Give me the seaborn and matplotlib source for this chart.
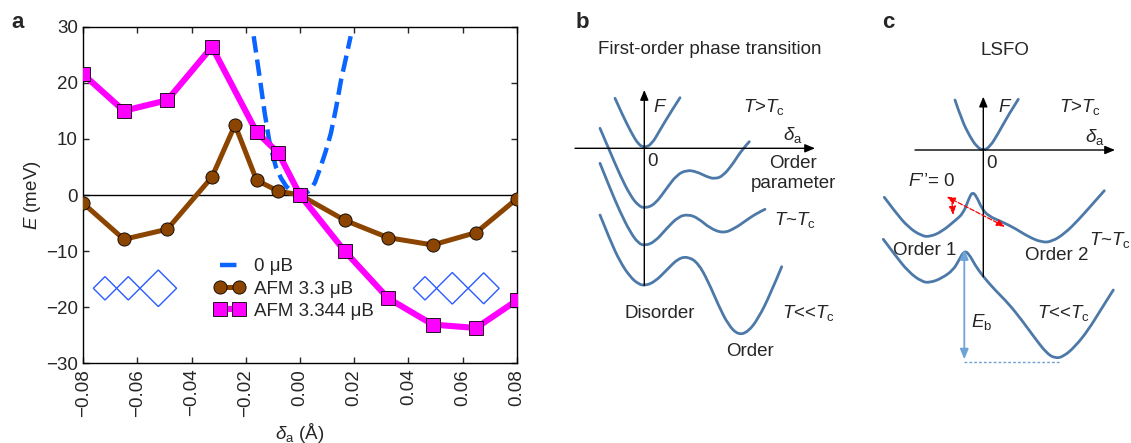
import numpy as np
import pandas as pd
import matplotlib
matplotlib.use("Agg")
import matplotlib.pyplot as plt
from matplotlib.patches import Polygon, PathPatch
from matplotlib.path import Path
import seaborn as sns

# ---- panel a data ----
delta_afm33 = [-0.080, -0.065, -0.049, -0.0325, -0.024, -0.016, -0.008, 0.0,
               0.0165, 0.0325, 0.049, 0.065, 0.080]
energy_afm33 = [-1.5, -7.9, -6.1, 3.2, 12.5, 2.6, 0.7, 0.0,
                -4.5, -7.6, -8.9, -6.7, -0.7]

delta_afm3344 = [-0.080, -0.065, -0.049, -0.0325, -0.016, -0.008, 0.0,
                 0.0165, 0.0325, 0.049, 0.065, 0.080]
energy_afm3344 = [21.5, 15.0, 16.9, 26.4, 11.2, 7.5, 0.0,
                  -10.0, -18.4, -23.1, -23.7, -18.8]

delta_nm = [-0.0171, -0.0158, -0.0146, -0.0130, -0.0114, -0.0100, -0.0089, -0.0070,
            -0.0050, -0.0030, -0.0010, 0.0, 0.0020, 0.0038, 0.0055, 0.0076,
            0.0095, 0.0114, 0.0133, 0.0152, 0.0170, 0.0187]
energy_nm = [28.3, 24.0, 20.0, 14.5, 9.8, 7.0, 5.0, 3.0,
             1.5, 0.6, 0.1, 0.0, 0.3, 0.9, 2.2, 5.0,
             7.8, 11.0, 15.5, 20.6, 24.5, 28.3]

series_labels = ["0 \u03bcB", "AFM 3.3 \u03bcB", "AFM 3.344 \u03bcB"]
x_ticks = [-0.08, -0.06, -0.04, -0.02, 0.0, 0.02, 0.04, 0.06, 0.08]
y_ticks = [-30, -20, -10, 0, 10, 20, 30]

# ---- panel b schematic curves (figure pixel coords) ----
b_top_x = [615, 623.3, 631.7, 638.3, 644.3, 651.7, 660, 670, 680]
b_top_y = [98.3, 116.7, 133.3, 144.3, 147.7, 144.3, 130, 113.3, 97.7]
b_mid_x = [600, 610, 620, 630, 638.3, 645, 655, 666.7, 676.7, 686.7, 696.7, 706.7,
           715, 723.3, 733.3, 741.7, 749.3]
b_mid_y = [128.3, 151.7, 175, 195, 205.7, 208.3, 204.3, 188.3, 175, 170, 171.7, 176.7,
           179, 175.7, 163.3, 150, 141.7]
b_tc_x = [600, 610, 620, 630, 638.3, 645, 655, 666.7, 678.3, 688.3, 698.3, 710,
          723.3, 735, 746.7, 756.7, 765]
b_tc_y = [163.3, 188.3, 211.7, 231.7, 243.3, 245.7, 241.7, 228.3, 216.7, 214.3, 218.3,
          228.3, 233.3, 228.3, 220, 213.3, 209.3]
b_low_x = [600, 610, 620, 630, 638.3, 645, 655, 666.7, 678.3, 688.3, 698.3, 708.3,
           718.3, 728.3, 738.3, 748.3, 758.3, 770, 781.7]
b_low_y = [215, 240, 261.7, 276.7, 284, 285.7, 281.7, 270, 258.3, 256.7, 263.3, 281.7,
           305, 325, 335, 331.7, 318.3, 295, 266.7]

# ---- panel c schematic curves ----
c_top_x = [955, 961.7, 970, 976.7, 983.3, 990, 998.3, 1008.3, 1018.3]
c_top_y = [100, 120, 136.7, 146.7, 150.7, 146.7, 133.3, 115, 99.3]
c_tc_x = [884.3, 895, 908.3, 921.7, 930, 941.7, 955, 963.3, 968.3, 972.3, 976.7,
          981.7, 988.3, 1001.7, 1015, 1028.3, 1041.7, 1051.7, 1065, 1078.3, 1091.7, 1104.3]
c_tc_y = [197.3, 211.7, 227.3, 236, 236.7, 231.7, 220.7, 213.3, 200, 191.7, 196.7,
          208.3, 216, 221.7, 228.3, 236.7, 242.3, 241.7, 233.3, 220, 205, 190.7]
c_low_x = [883.3, 895, 908.3, 921.7, 930, 941.7, 953.3, 959, 964.3, 969, 975, 983.3,
           995, 1008.3, 1021.7, 1035, 1046.7, 1055, 1063.3, 1075, 1088.3, 1101.7, 1113.3]
c_low_y = [239.3, 255, 271.7, 281.7, 282.7, 278.3, 270, 260, 250.7, 254, 265, 276.7,
           290, 303.3, 320, 338.3, 353.3, 358.3, 356.7, 346.7, 330, 308.3, 290]

sns.set_style("white")
plt.rcParams["font.family"] = ["Liberation Sans", "DejaVu Sans"]
plt.rcParams["mathtext.fontset"] = "custom"
plt.rcParams["mathtext.rm"] = "Liberation Sans"
plt.rcParams["mathtext.it"] = "Liberation Sans:italic"
plt.rcParams["mathtext.bf"] = "Liberation Sans:bold"

W, H = 1131, 443
fig = plt.figure(figsize=(W / 100, H / 100), dpi=100)

# ---------- panel a ----------
ax = fig.add_axes([83.3 / W, 1 - 363.3 / H, 433.4 / W, 336.6 / H])
ax.axhline(0, color="black", lw=1.0, zorder=1)

sns.lineplot(x=delta_nm, y=energy_nm, ax=ax, color="#0a64ff", lw=3.2,
             linestyle="--", dashes=(3.2, 1.6), sort=False, label=series_labels[0], zorder=2)
sns.lineplot(x=delta_afm33, y=energy_afm33, ax=ax, color="#8b4500", lw=3.6,
             marker="o", markersize=9.5, markeredgecolor="black", markeredgewidth=0.6,
             label=series_labels[1], zorder=3)
sns.lineplot(x=delta_afm3344, y=energy_afm3344, ax=ax, color="#ff00ff", lw=4.4,
             marker="s", markersize=9.5, markeredgecolor="black", markeredgewidth=0.6,
             label=series_labels[2], zorder=4)

ax.set_xlim(-0.08, 0.08)
ax.set_ylim(-30, 30)
ax.set_xticks(x_ticks)
ax.set_xticklabels([f"{v:.2f}".replace("-", "\u2212") for v in x_ticks], rotation=90)
ax.set_yticks(y_ticks)
ax.set_yticklabels([f"{v}".replace("-", "\u2212") for v in y_ticks])
ax.tick_params(direction="in", length=4, width=1, labelsize=13.5, top=True, right=True,
               bottom=True, left=True, pad=4)
for sp in ax.spines.values():
    sp.set_color("black")
    sp.set_linewidth(1.0)
ax.set_xlabel("$\\delta_{\\mathrm{a}}$ (Å)", fontsize=13.5, labelpad=3)
ax.set_ylabel("$E$ (meV)", fontsize=13.5, labelpad=2)
ax.legend(loc="upper left", bbox_to_anchor=(0.285, 0.335), frameon=False, fontsize=13.5,
          numpoints=2, handlelength=1.6, handletextpad=0.5, labelspacing=0.28,
          borderaxespad=0)

# ---------- overlay for panels b, c and decorations ----------
ov = fig.add_axes([0, 0, 1, 1], facecolor="none")
ov.set_xlim(0, W)
ov.set_ylim(H, 0)
ov.axis("off")


def diamond(cx, cy, h, color="#2a5cff"):
    ov.add_patch(Polygon([(cx - h, cy), (cx, cy - h), (cx + h, cy), (cx, cy + h)],
                         closed=True, fill=False, edgecolor=color, lw=1.0))


def smooth_curve(xs, ys, color, lw):
    # quadratic bezier pieces through the midpoints of the read-off points
    pts = list(zip(xs, ys))
    verts = [pts[0]]
    codes = [Path.MOVETO]
    for i in range(1, len(pts) - 1):
        mid = ((pts[i][0] + pts[i + 1][0]) / 2, (pts[i][1] + pts[i + 1][1]) / 2)
        if i == len(pts) - 2:
            mid = pts[-1]
        verts += [pts[i], mid]
        codes += [Path.CURVE3, Path.CURVE3]
    ov.add_patch(PathPatch(Path(verts, codes), fill=False, edgecolor=color, lw=lw,
                           capstyle="round", joinstyle="round"))


for cx, h in [(105, 11.7), (128.3, 11.7), (158.3, 18.3)]:
    diamond(cx, 288.3, h)
for cx, h in [(425, 11.7), (452.3, 15.8), (483.7, 15.5)]:
    diamond(cx, 288.3, h)

curve_col = "#4c79a8"
lw_c = 2.0
arr = dict(arrowstyle="-|>,head_length=0.6,head_width=0.25", color="black", lw=1.0,
           shrinkA=0, shrinkB=0)

# panel b
ov.annotate("", xy=(815, 148.3), xytext=(575, 148.3), arrowprops=arr)
ov.annotate("", xy=(644.3, 90), xytext=(644.3, 285.5), arrowprops=arr)
for xs, ys in [(b_top_x, b_top_y), (b_mid_x, b_mid_y), (b_tc_x, b_tc_y), (b_low_x, b_low_y)]:
    smooth_curve(xs, ys, curve_col, lw_c)

fs = 13.5
ov.text(710, 49, "First-order phase transition", fontsize=fs, ha="center", va="center")
ov.text(660, 107, "$F$", fontsize=fs, ha="center", va="center")
ov.text(764, 107, "$T$>$T_{\\mathrm{c}}$", fontsize=fs, ha="center", va="center")
ov.text(793, 135, "$\\delta_{\\mathrm{a}}$", fontsize=fs, ha="center", va="center")
ov.text(653, 161, "0", fontsize=fs, ha="center", va="center")
ov.text(793, 163, "Order", fontsize=fs, ha="center", va="center")
ov.text(793, 184, "parameter", fontsize=fs, ha="center", va="center")
ov.text(795, 220, "$T$~$T_{\\mathrm{c}}$", fontsize=fs, ha="center", va="center")
ov.text(808, 313, "$T$<<$T_{\\mathrm{c}}$", fontsize=fs, ha="center", va="center")
ov.text(660, 313, "Disorder", fontsize=fs, ha="center", va="center")
ov.text(750, 352, "Order", fontsize=fs, ha="center", va="center")

# panel c
ov.annotate("", xy=(1115, 150), xytext=(915, 150), arrowprops=arr)
ov.annotate("", xy=(983.3, 96.7), xytext=(983.3, 276.7), arrowprops=arr)
for xs, ys in [(c_top_x, c_top_y), (c_tc_x, c_tc_y), (c_low_x, c_low_y)]:
    smooth_curve(xs, ys, curve_col, lw_c)

eb_col = "#6fa3d8"
ov.annotate("", xy=(964.3, 249.3), xytext=(964.3, 359.3),
            arrowprops=dict(arrowstyle="<|-|>,head_length=0.6,head_width=0.25",
                            color=eb_col, lw=1.3, shrinkA=0, shrinkB=0))
ov.plot([964.3, 1060], [361.7, 361.7], color=eb_col, lw=1.0, ls=(0, (2, 1.5)))

red_arr = dict(arrowstyle="<|-|>,head_length=0.5,head_width=0.2", color="red", lw=0.9,
               ls="--", shrinkA=0, shrinkB=0)
ov.annotate("", xy=(946.7, 196.7), xytext=(1005, 226.7), arrowprops=red_arr)
ov.annotate("", xy=(953.3, 215), xytext=(952, 203),
            arrowprops=dict(arrowstyle="-|>,head_length=0.5,head_width=0.2", color="red",
                            lw=0.9, ls="--", shrinkA=0, shrinkB=0))

ov.text(1005, 50, "LSFO", fontsize=fs, ha="center", va="center")
ov.text(1005, 107, "$F$", fontsize=fs, ha="center", va="center")
ov.text(1080, 107, "$T$>$T_{\\mathrm{c}}$", fontsize=fs, ha="center", va="center")
ov.text(1095, 137, "$\\delta_{\\mathrm{a}}$", fontsize=fs, ha="center", va="center")
ov.text(991.7, 163, "0", fontsize=fs, ha="center", va="center")
ov.text(932, 181, "$F$\u2019\u2019= 0", fontsize=fs, ha="center", va="center")
ov.text(1110, 240, "$T$~$T_{\\mathrm{c}}$", fontsize=fs, ha="center", va="center")
ov.text(925, 250, "Order 1", fontsize=fs, ha="center", va="center")
ov.text(1057, 256, "Order 2", fontsize=fs, ha="center", va="center")
ov.text(1063, 313, "$T$<<$T_{\\mathrm{c}}$", fontsize=fs, ha="center", va="center")
ov.text(981.7, 322, "$E_{\\mathrm{b}}$", fontsize=fs, ha="center", va="center")

# panel letters
for lx, letter in [(18, "a"), (582, "b"), (888, "c")]:
    ov.text(lx, 22, letter, fontsize=16, fontweight="bold", ha="center", va="center")

fig.savefig("out.png", dpi=100)
